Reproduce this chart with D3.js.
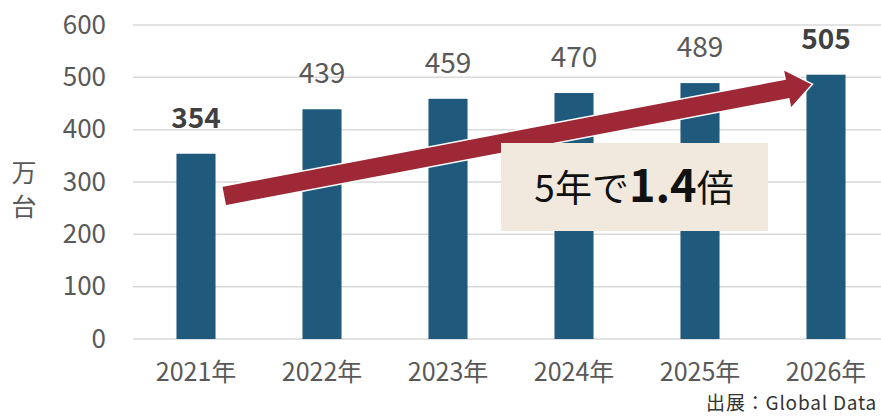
<!DOCTYPE html>
<html>
<head>
<meta charset="utf-8">
<script src="https://cdn.jsdelivr.net/npm/d3@7/dist/d3.min.js"></script>
<style>
  html, body { margin: 0; padding: 0; background: #fff; }
  svg { display: block; }
  text { font-family: "Noto Sans CJK JP", "Noto Sans", sans-serif; }
</style>
</head>
<body>
<div id="chart"></div>
<script>
// Unit sales by year (万台)
const years = ["2021年", "2022年", "2023年", "2024年", "2025年", "2026年"];
const values = [354, 439, 459, 470, 489, 505];
const boldLabels = [true, false, false, false, false, true];
const yTicks = [0, 100, 200, 300, 400, 500, 600];
const yTitle = ["万", "台"];
const calloutParts = [
  { text: "5年で", bold: false },
  { text: "1.4", bold: true },
  { text: "倍", bold: false }
];
const sourceText = "出展：Global Data";

const W = 881, H = 417;
const svg = d3.select("#chart").append("svg")
  .attr("width", W).attr("height", H);

const x = d3.scaleBand()
  .domain(years)
  .range([133, 889])
  .paddingInner(0.69)
  .paddingOuter(0.345);

const y = d3.scaleLinear().domain([0, 600]).range([339, 25]);

// Gridlines
svg.append("g").selectAll("line")
  .data(yTicks).join("line")
  .attr("x1", 133).attr("x2", W)
  .attr("y1", d => y(d)).attr("y2", d => y(d))
  .attr("stroke", "#d9d9d9").attr("stroke-width", 1.5);

// Y axis labels
const yAxis = d3.axisLeft(y).tickValues(yTicks).tickSize(0).tickPadding(0);
const gy = svg.append("g").attr("transform", "translate(106,0)").call(yAxis);
gy.select(".domain").remove();
gy.selectAll("text")
  .attr("fill", "#595959")
  .style("font-size", "26px")
  .style("font-family", "'Noto Sans CJK JP', sans-serif");

// X axis labels
const xAxis = d3.axisBottom(x).tickSize(0).tickPadding(0);
const gx = svg.append("g").attr("transform", "translate(0,360)").call(xAxis);
gx.select(".domain").remove();
gx.selectAll("text")
  .attr("fill", "#595959")
  .attr("dy", "0.85em")
  .style("font-size", "25px")
  .style("font-family", "'Noto Sans CJK JP', sans-serif");

// Y axis title, stacked vertically
svg.append("g").selectAll("text")
  .data(yTitle).join("text")
  .attr("x", 24)
  .attr("y", (d, i) => 171 + i * 34)
  .attr("text-anchor", "middle")
  .attr("dominant-baseline", "central")
  .attr("fill", "#595959")
  .style("font-size", "25px")
  .text(d => d);

// Bars
svg.append("g").selectAll("rect")
  .data(values).join("rect")
  .attr("x", (d, i) => x(years[i]))
  .attr("y", d => y(d))
  .attr("width", x.bandwidth())
  .attr("height", d => y(0) - y(d))
  .attr("fill", "#1f5a7d");

// Value labels
svg.append("g").selectAll("text")
  .data(values).join("text")
  .attr("x", (d, i) => x(years[i]) + x.bandwidth() / 2)
  .attr("y", d => y(d) - 26)
  .attr("text-anchor", "middle")
  .attr("fill", (d, i) => boldLabels[i] ? "#404040" : "#595959")
  .attr("font-weight", (d, i) => boldLabels[i] ? 700 : 400)
  .style("font-size", "28px")
  .text(d => d);

// Growth arrow from the first bar to the last
const tail = [x(years[0]) + x.bandwidth() + 8, y(273)];
const tip = [x(years[5]) + 6, y(487)];
const dx = tip[0] - tail[0], dy = tip[1] - tail[1];
const len = Math.hypot(dx, dy);
const ux = dx / len, uy = dy / len;
const nx = -uy, ny = ux;
const shaftHalf = 10, headHalf = 20, headLen = 26;
const P = (a, b) => [tail[0] + ux * a + nx * b, tail[1] + uy * a + ny * b];
const arrowPts = [
  P(0, -shaftHalf),
  P(len - headLen, -shaftHalf),
  P(len - headLen, -headHalf),
  P(len, 0),
  P(len - headLen, headHalf),
  P(len - headLen, shaftHalf),
  P(0, shaftHalf)
];
svg.append("path")
  .attr("d", d3.line()(arrowPts) + "Z")
  .attr("fill", "#9e2835")
  .attr("stroke", "#fff")
  .attr("stroke-width", 1.5)
  .attr("stroke-linejoin", "miter");

// Callout box
svg.append("rect")
  .attr("x", 501).attr("y", 143)
  .attr("width", 267).attr("height", 88)
  .attr("fill", "#f1e9dd");

const callout = svg.append("text")
  .attr("x", 634).attr("y", 202)
  .attr("text-anchor", "middle")
  .attr("fill", "#111");
callout.selectAll("tspan")
  .data(calloutParts).join("tspan")
  .attr("font-weight", d => d.bold ? 700 : 400)
  .style("font-size", d => d.bold ? "45px" : "37px")
  .text(d => d.text);

// Source note
svg.append("text")
  .attr("x", 877).attr("y", 410)
  .attr("text-anchor", "end")
  .attr("fill", "#333")
  .style("font-size", "19px")
  .style("letter-spacing", "0.8px")
  .text(sourceText);
</script>
</body>
</html>
